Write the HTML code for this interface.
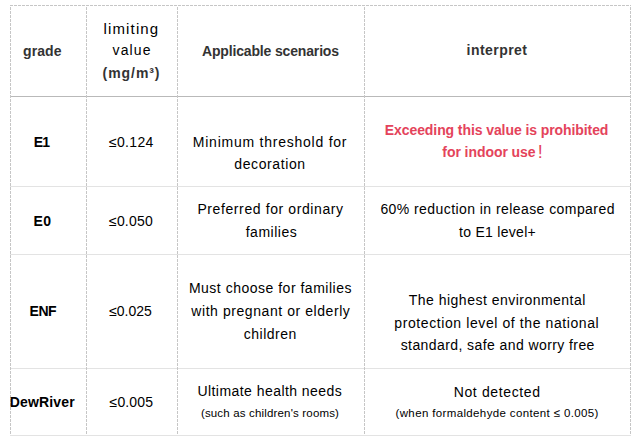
<!DOCTYPE html>
<html><head><meta charset="utf-8"><title>Formaldehyde emission grades</title>
<style>
html,body{margin:0;padding:0;background:#fff;}
#t{position:relative;width:636px;height:441px;overflow:hidden;background:#fff;font-family:"Liberation Sans",sans-serif;}
#t svg{position:absolute;left:0;top:0;}
.l{position:absolute;white-space:nowrap;line-height:20px;font-family:"Liberation Sans",sans-serif;}
.b{font-weight:700}
</style></head><body>
<div id="t">
<svg width="636" height="441" viewBox="0 0 636 441" shape-rendering="crispEdges">
<rect x="10" y="96" width="621" height="1" fill="#b9b9b9"/>
<rect x="10" y="186" width="621" height="1" fill="#e3e3e3"/>
<rect x="10" y="254" width="621" height="1" fill="#e3e3e3"/>
<rect x="10" y="368" width="621" height="1" fill="#e3e3e3"/>
<rect x="10" y="435" width="621" height="1" fill="#e3e3e3"/>
<line x1="10" y1="5.5" x2="631" y2="5.5" stroke="#c6c6c6" stroke-width="1" stroke-dasharray="3 1"/>
<line x1="10.5" y1="7" x2="10.5" y2="435" stroke="#c6c6c6" stroke-width="1" stroke-dasharray="3 1"/>
<line x1="86.5" y1="7" x2="86.5" y2="435" stroke="#c6c6c6" stroke-width="1" stroke-dasharray="3 1"/>
<line x1="177.5" y1="7" x2="177.5" y2="435" stroke="#c6c6c6" stroke-width="1" stroke-dasharray="3 1"/>
<line x1="364.5" y1="7" x2="364.5" y2="435" stroke="#c6c6c6" stroke-width="1" stroke-dasharray="3 1"/>
<line x1="630.5" y1="7" x2="630.5" y2="435" stroke="#c6c6c6" stroke-width="1" stroke-dasharray="3 1"/>
</svg>
<div class="l b" style="left:23.00px;top:41px;font-size:14.0px;letter-spacing:0.100px;color:#333333">grade</div>
<div class="l" style="left:103.50px;top:19px;font-size:15.0px;letter-spacing:1.143px;color:#000000">limiting</div>
<div class="l" style="left:112.60px;top:40px;font-size:14.0px;letter-spacing:1.100px;color:#000000">value</div>
<div class="l b" style="left:102.60px;top:63px;font-size:14.0px;letter-spacing:0.933px;color:#333333">(mg/m³)</div>
<div class="l b" style="left:202.00px;top:41px;font-size:14.0px;letter-spacing:-0.158px;color:#333333">Applicable scenarios</div>
<div class="l b" style="left:466.60px;top:40px;font-size:14.0px;letter-spacing:0.450px;color:#333333">interpret</div>
<div class="l b" style="left:33.70px;top:132px;font-size:14.0px;letter-spacing:-0.800px;color:#000000">E1</div>
<div class="l" style="left:109.00px;top:132px;font-size:14.0px;letter-spacing:0.320px;color:#000000">≤0.124</div>
<div class="l" style="left:192.80px;top:132px;font-size:14.0px;letter-spacing:0.760px;color:#000000">Minimum threshold for</div>
<div class="l" style="left:234.30px;top:154px;font-size:14.0px;letter-spacing:0.600px;color:#000000">decoration</div>
<div class="l b" style="left:384.80px;top:120px;font-size:14.0px;letter-spacing:-0.085px;color:#e4435b">Exceeding this value is prohibited</div>
<div class="l b" style="left:442.30px;top:142px;font-size:14.0px;letter-spacing:-0.062px;color:#e4435b">for indoor use</div>
<div class="l" style="left:537.70px;top:142px;font-size:18.0px;letter-spacing:0.000px;color:#e4435b">!</div>
<div class="l b" style="left:33.60px;top:211px;font-size:14.0px;letter-spacing:0.200px;color:#000000">E0</div>
<div class="l" style="left:109.00px;top:211px;font-size:14.0px;letter-spacing:0.200px;color:#000000">≤0.050</div>
<div class="l" style="left:197.40px;top:199px;font-size:14.0px;letter-spacing:0.600px;color:#000000">Preferred for ordinary</div>
<div class="l" style="left:245.70px;top:222px;font-size:14.0px;letter-spacing:0.514px;color:#000000">families</div>
<div class="l" style="left:380.40px;top:199px;font-size:14.0px;letter-spacing:0.431px;color:#000000">60% reduction in release compared</div>
<div class="l" style="left:459.00px;top:222px;font-size:14.0px;letter-spacing:0.291px;color:#000000">to E1 level+</div>
<div class="l b" style="left:29.60px;top:301px;font-size:14.0px;letter-spacing:-0.500px;color:#000000">ENF</div>
<div class="l" style="left:109.20px;top:301px;font-size:14.0px;letter-spacing:-0.040px;color:#000000">≤0.025</div>
<div class="l" style="left:188.90px;top:278px;font-size:14.0px;letter-spacing:0.504px;color:#000000">Must choose for families</div>
<div class="l" style="left:191.30px;top:301px;font-size:14.0px;letter-spacing:0.565px;color:#000000">with pregnant or elderly</div>
<div class="l" style="left:243.70px;top:324px;font-size:14.0px;letter-spacing:0.514px;color:#000000">children</div>
<div class="l" style="left:408.80px;top:290px;font-size:14.0px;letter-spacing:0.483px;color:#000000">The highest environmental</div>
<div class="l" style="left:394.30px;top:313px;font-size:14.0px;letter-spacing:0.594px;color:#000000">protection level of the national</div>
<div class="l" style="left:400.70px;top:335px;font-size:14.0px;letter-spacing:0.414px;color:#000000">standard, safe and worry free</div>
<div class="l b" style="left:9.70px;top:392px;font-size:14.0px;letter-spacing:0.171px;color:#000000">DewRiver</div>
<div class="l" style="left:109.60px;top:392px;font-size:14.0px;letter-spacing:0.120px;color:#000000">≤0.005</div>
<div class="l" style="left:197.40px;top:381px;font-size:14.0px;letter-spacing:0.450px;color:#000000">Ultimate health needs</div>
<div class="l" style="left:200.90px;top:403px;font-size:11.5px;letter-spacing:0.168px;color:#000000">(such as children's rooms)</div>
<div class="l" style="left:453.70px;top:382px;font-size:14.0px;letter-spacing:0.636px;color:#000000">Not detected</div>
<div class="l" style="left:395.50px;top:403px;font-size:11.5px;letter-spacing:0.365px;color:#000000">(when formaldehyde content ≤ 0.005)</div>
</div>
</body></html>
